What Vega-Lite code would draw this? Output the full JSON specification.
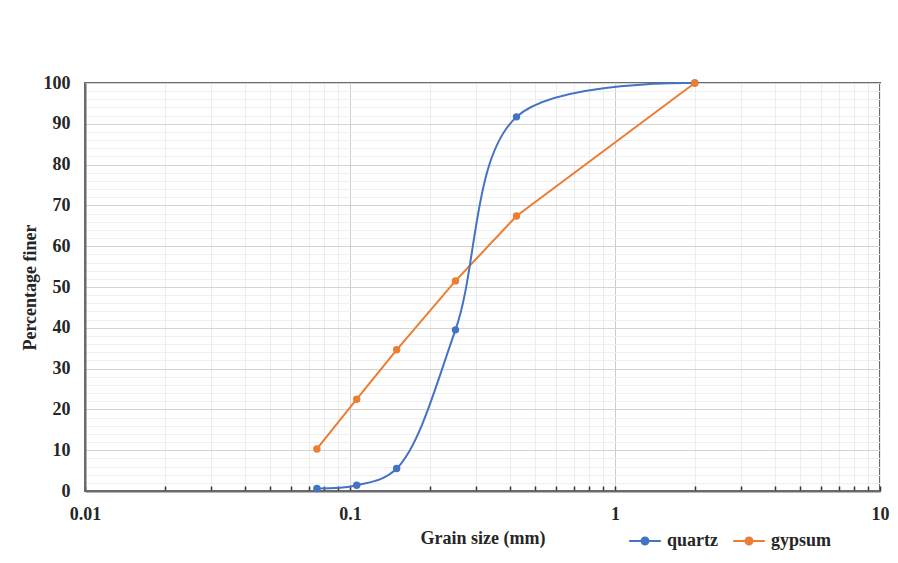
{
  "$schema": "https://vega.github.io/schema/vega-lite/v6.json",
  "width": 795,
  "height": 408,
  "autosize": {"type": "none"},
  "padding": {"left": 85, "top": 83, "right": 18, "bottom": 72},
  "background": "white",
  "config": {
    "view": {"stroke": "#6a6a6a", "strokeWidth": 2},
    "font": "Liberation Serif"
  },
  "data": {
    "values": [
      {"material": "quartz", "size": 0.075, "pct": 0.6},
      {"material": "quartz", "size": 0.106, "pct": 1.4},
      {"material": "quartz", "size": 0.15, "pct": 5.5},
      {"material": "quartz", "size": 0.25, "pct": 39.5},
      {"material": "quartz", "size": 0.425, "pct": 91.7},
      {"material": "quartz", "size": 2.0, "pct": 100},
      {"material": "gypsum", "size": 0.075, "pct": 10.3},
      {"material": "gypsum", "size": 0.106, "pct": 22.5},
      {"material": "gypsum", "size": 0.15, "pct": 34.6},
      {"material": "gypsum", "size": 0.25, "pct": 51.5},
      {"material": "gypsum", "size": 0.425, "pct": 67.4},
      {"material": "gypsum", "size": 2.0, "pct": 100}
    ]
  },
  "encoding": {
    "x": {
      "field": "size",
      "type": "quantitative",
      "scale": {"type": "log", "domain": [0.01, 10], "nice": false},
      "axis": {
        "title": "Grain size (mm)",
        "values": [0.01, 0.02, 0.03, 0.04, 0.05, 0.06, 0.07, 0.08, 0.09, 0.1, 0.2, 0.3, 0.4, 0.5, 0.6, 0.7, 0.8, 0.9, 1, 2, 3, 4, 5, 6, 7, 8, 9, 10],
        "labelExpr": "datum.value == 0.01 ? '0.01' : datum.value == 0.1 ? '0.1' : datum.value == 1 ? '1' : datum.value == 10 ? '10' : ''",
        "labelOverlap": false,
        "labelFlush": false,
        "grid": true,
        "gridColor": {"condition": {"test": "datum.value == 0.1 || datum.value == 1", "value": "#cdcdcd"}, "value": "#ededed"},
        "gridWidth": 1,
        "ticks": true,
        "tickSize": -5,
        "tickColor": "#333333",
        "tickWidth": 1.5,
        "domainColor": "#6a6a6a",
        "domainWidth": 2,
        "labelFont": "Liberation Serif",
        "labelFontSize": 18,
        "labelFontWeight": "bold",
        "labelColor": "#262626",
        "labelPadding": 19,
        "titleFont": "Liberation Serif",
        "titleFontSize": 18,
        "titleFontWeight": "bold",
        "titleColor": "#262626",
        "titlePadding": 6
      }
    },
    "y": {
      "field": "pct",
      "type": "quantitative",
      "scale": {"domain": [0, 100], "nice": false},
      "axis": {
        "title": "Percentage finer",
        "values": [0, 2, 4, 6, 8, 10, 12, 14, 16, 18, 20, 22, 24, 26, 28, 30, 32, 34, 36, 38, 40, 42, 44, 46, 48, 50, 52, 54, 56, 58, 60, 62, 64, 66, 68, 70, 72, 74, 76, 78, 80, 82, 84, 86, 88, 90, 92, 94, 96, 98, 100],
        "labelExpr": "datum.value % 10 == 0 ? datum.label : ''",
        "labelOverlap": false,
        "labelFlush": false,
        "grid": true,
        "gridColor": {"condition": {"test": "datum.value % 10 == 0", "value": "#d4d4d4"}, "value": "#efefef"},
        "ticks": false,
        "domainColor": "#6a6a6a",
        "domainWidth": 2,
        "labelFont": "Liberation Serif",
        "labelFontSize": 18,
        "labelFontWeight": "bold",
        "labelColor": "#262626",
        "labelPadding": 15,
        "titleFont": "Liberation Serif",
        "titleFontSize": 18,
        "titleFontWeight": "bold",
        "titleColor": "#262626",
        "titlePadding": 4
      }
    },
    "color": {
      "field": "material",
      "type": "nominal",
      "scale": {"domain": ["quartz", "gypsum"], "range": ["#4472C4", "#ED7D31"]},
      "legend": {
        "title": null,
        "orient": "none",
        "direction": "horizontal",
        "legendX": 543,
        "legendY": 441,
        "symbolType": "M-1,0L1,0M-0.22,0A0.22,0.22 0 1,0 0.22,0A0.22,0.22 0 1,0 -0.22,0",
        "symbolSize": 1000,
        "symbolStrokeWidth": 2,
        "labelFont": "Liberation Serif",
        "labelFontSize": 18,
        "labelFontWeight": "bold",
        "labelColor": "#262626",
        "labelOffset": 5,
        "columnPadding": 11,
        "encode": {"symbols": {"update": {"fill": {"scale": "color", "field": "value"}, "fillOpacity": {"value": 1}}}}
      }
    }
  },
  "layer": [
    {
      "transform": [{"filter": "datum.material == 'gypsum'"}],
      "mark": {"type": "line", "strokeWidth": 2}
    },
    {
      "transform": [{"filter": "datum.material == 'quartz'"}],
      "mark": {"type": "line", "interpolate": "catmull-rom", "strokeWidth": 2}
    },
    {
      "mark": {"type": "point", "filled": true, "size": 55, "opacity": 1}
    }
  ]
}
